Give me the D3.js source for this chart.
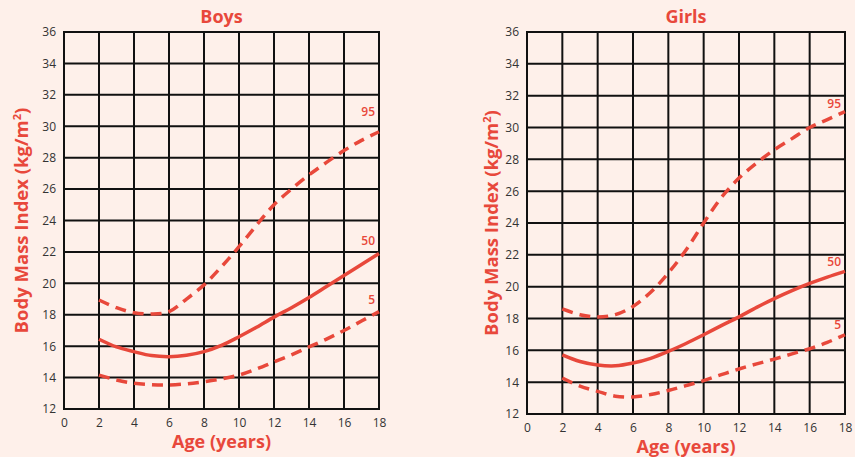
<!DOCTYPE html>
<html>
<head>
<meta charset="utf-8">
<script src="https://cdn.jsdelivr.net/npm/d3@7"></script>
<style>
  body { margin: 0; background: #fef0ea; }
  svg { display: block; }
  text { font-family: "Open Sans", "Noto Sans", sans-serif; }
</style>
</head>
<body>
<div id="chart"></div>
<script>
// ages the curves are read at
const ages = [2, 3, 4, 5, 6, 7, 8, 9, 10, 11, 12, 13, 14, 15, 16, 17, 18];

const boysP95 = [18.94, 18.45, 18.13, 18.05, 18.2, 19.0, 19.9, 21.06, 22.33, 23.7, 25.0, 26.0, 26.9, 27.7, 28.45, 29.1, 29.65];
const boysP50 = [16.44, 15.95, 15.65, 15.4, 15.33, 15.42, 15.65, 16.05, 16.6, 17.2, 17.85, 18.45, 19.1, 19.8, 20.5, 21.2, 21.9];
const boysP5  = [14.16, 13.85, 13.64, 13.55, 13.53, 13.6, 13.74, 13.92, 14.16, 14.55, 15.0, 15.45, 15.95, 16.45, 17.0, 17.6, 18.2];

const girlsP95 = [18.6, 18.24, 18.09, 18.24, 18.76, 19.65, 20.86, 22.3, 24.0, 25.6, 26.82, 27.77, 28.6, 29.3, 30.0, 30.5, 31.0];
const girlsP50 = [15.72, 15.3, 15.08, 15.03, 15.2, 15.5, 15.93, 16.43, 16.98, 17.55, 18.1, 18.7, 19.25, 19.75, 20.2, 20.6, 20.96];
const girlsP5  = [14.26, 13.75, 13.42, 13.12, 13.07, 13.22, 13.48, 13.78, 14.1, 14.47, 14.83, 15.15, 15.45, 15.78, 16.1, 16.5, 16.98];

const percentiles = ["95", "50", "5"];
const xTicks = [0, 2, 4, 6, 8, 10, 12, 14, 16, 18];
const yTicks = [12, 14, 16, 18, 20, 22, 24, 26, 28, 30, 32, 34, 36];

const red = "#e8483b";

const svg = d3.select("#chart").append("svg")
  .attr("width", 855)
  .attr("height", 457);

function drawChart(title, series, box) {
  const g = svg.append("g");

  const x = d3.scaleLinear().domain([0, 18]).range([box.left, box.right]);
  const y = d3.scaleLinear().domain([12, 36]).range([box.bottom, box.top]);

  // grid
  g.selectAll(".vgrid").data(xTicks).enter().append("line")
    .attr("x1", d => x(d)).attr("x2", d => x(d))
    .attr("y1", box.top).attr("y2", box.bottom)
    .attr("stroke", "#111").attr("stroke-width", 2);
  g.selectAll(".hgrid").data(yTicks).enter().append("line")
    .attr("x1", box.left - 1).attr("x2", box.right + 1)
    .attr("y1", d => y(d)).attr("y2", d => y(d))
    .attr("stroke", "#111").attr("stroke-width", 2);

  // tick labels
  const xAxis = d3.axisBottom(x).tickValues(xTicks).tickSize(0).tickPadding(9);
  const yAxis = d3.axisLeft(y).tickValues(yTicks).tickSize(0).tickPadding(8);
  g.append("g").attr("transform", `translate(0,${box.bottom})`).call(xAxis);
  g.append("g").attr("transform", `translate(${box.left},0)`).call(yAxis);
  g.selectAll(".domain").remove();
  g.selectAll(".tick text")
    .attr("fill", "#333")
    .attr("font-size", "12px")
    .style("font-family", "\"Open Sans\", sans-serif");

  // title
  g.append("text")
    .attr("x", (box.left + box.right) / 2)
    .attr("y", 23)
    .attr("text-anchor", "middle")
    .attr("font-size", "18px")
    .attr("font-weight", "bold")
    .attr("fill", red)
    .text(title);

  g.append("text")
    .attr("x", (box.left + box.right) / 2)
    .attr("y", box.bottom + 39)
    .attr("text-anchor", "middle")
    .attr("font-size", "18px")
    .attr("font-weight", "bold")
    .attr("fill", red)
    .text("Age (years)");

  g.append("text")
    .attr("transform", `translate(${box.ylabelX},${(box.top + box.bottom) / 2}) rotate(-90)`)
    .attr("dy", "0.35em")
    .attr("text-anchor", "middle")
    .attr("font-size", "18.5px")
    .attr("font-weight", "bold")
    .attr("fill", red)
    .html("Body Mass Index (kg/m<tspan dy='-7' font-size='11px'>2</tspan><tspan dy='7'>)</tspan>");

  const line = d3.line()
    .x((d, i) => x(ages[i]))
    .y(d => y(d))
    .curve(d3.curveCatmullRom.alpha(0.5));

  series.forEach((vals, i) => {
    g.append("path")
      .attr("d", line(vals))
      .attr("fill", "none")
      .attr("stroke", red)
      .attr("stroke-width", 3.5)
      .attr("stroke-dasharray", percentiles[i] === "50" ? null : "11,7");

    g.append("text")
      .attr("x", x(18) - 4)
      .attr("y", y(vals[vals.length - 1]) - box.labelDy[i])
      .attr("text-anchor", "end")
      .attr("font-size", "12px")
      .attr("font-weight", "600")
      .attr("fill", red)
      .text(percentiles[i]);
  });
}

drawChart("Boys", [boysP95, boysP50, boysP5],
  { left: 64, right: 379, top: 32, bottom: 409, ylabelX: 22, labelDy: [16, 8, 8] });
drawChart("Girls", [girlsP95, girlsP50, girlsP5],
  { left: 527, right: 845, top: 32, bottom: 414, ylabelX: 492, labelDy: [4, 5, 6] });
</script>
</body>
</html>
